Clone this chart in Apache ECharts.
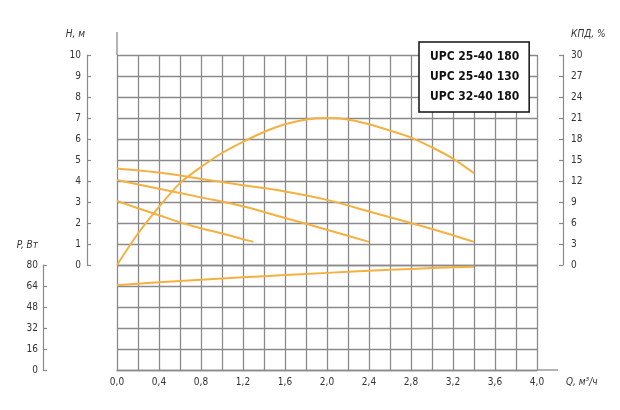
<!DOCTYPE html>
<html><head><meta charset="utf-8">
<script src="https://cdn.jsdelivr.net/npm/echarts@6/dist/echarts.min.js"></script>
<style>html,body{margin:0;padding:0;background:#fff}#c{width:620px;height:410px}</style>
</head><body><div id="c"></div>
<script>
// Flow Q, m3/h
const q1 = [0, 0.4, 0.8, 1.2, 1.6, 2.0, 2.4, 2.8, 3.2, 3.4];
const h1 = [4.6, 4.4, 4.1, 3.8, 3.5, 3.1, 2.55, 2.0, 1.42, 1.1];
const q2 = [0, 0.4, 0.8, 1.2, 1.6, 2.0, 2.4];
const h2 = [4.05, 3.63, 3.22, 2.8, 2.24, 1.68, 1.1];
const q3 = [0, 0.2, 0.4, 0.6, 0.8, 1.0, 1.2, 1.3];
const h3 = [3.05, 2.7, 2.37, 2.03, 1.75, 1.5, 1.23, 1.1];
const qEff = [0, 0.2, 0.4, 0.6, 0.8, 1.0, 1.2, 1.4, 1.6, 1.8, 2.0, 2.2, 2.4, 2.6, 2.8, 3.0, 3.2, 3.4];
const eff = [0, 4.5, 8.3, 11.7, 14, 16, 17.6, 19, 20.1, 20.8, 21, 20.8, 20.1, 19.2, 18.2, 16.8, 15.2, 13.1];
const qPow = [0, 0.4, 0.8, 1.2, 1.6, 2.0, 2.4, 2.8, 3.2, 3.4];
const pow = [64.5, 66.8, 68.8, 70.6, 72.3, 74, 75.6, 77, 78.2, 78.6];
const models = ['UPC 25-40 180', 'UPC 25-40 130', 'UPC 32-40 180'];

const pairs = (xs, ys) => xs.map((x, i) => [x, ys[i]]);
const GRAY = '#8a8a8a';
const ORANGE = '#F4B141';
const FONT = '"DejaVu Sans Condensed","DejaVu Sans",sans-serif';
const lbl = { color: '#333', fontSize: 10, fontFamily: FONT };
const nameStyle = { color: '#333', fontSize: 10, fontStyle: 'italic', fontFamily: FONT };

const xBase = {
  type: 'value', min: 0, max: 4, interval: 0.2,
  splitLine: { show: true, lineStyle: { color: GRAY, width: 1.3 } },
  axisTick: { show: false }
};
const yBase = {
  type: 'value',
  axisLine: { show: true, onZero: false, lineStyle: { color: GRAY, width: 1.2 } },
  axisTick: { show: true, inside: true, length: 4, lineStyle: { color: GRAY, width: 1.2 } },
  axisLabel: Object.assign({ margin: 6 }, lbl)
};
const line = (name, data, xi, yi) => ({
  name, type: 'line', data, xAxisIndex: xi, yAxisIndex: yi, smooth: 0.3,
  showSymbol: false, symbol: 'none', animation: false,
  lineStyle: { color: ORANGE, width: 2 }, itemStyle: { color: ORANGE }
});

const chart = echarts.init(document.getElementById('c'));
chart.setOption({
  animation: false,
  grid: [
    { left: 117, top: 55, width: 420, height: 210 },
    { left: 117, top: 265, width: 420, height: 105 }
  ],
  xAxis: [
    Object.assign({}, xBase, { gridIndex: 0, axisLine: { show: false }, axisLabel: { show: false } }),
    Object.assign({}, xBase, {
      gridIndex: 1,
      axisLine: { show: true, onZero: false, lineStyle: { color: GRAY, width: 1.3 } },
      axisLabel: Object.assign({ margin: 7, showMinLabel: true, showMaxLabel: true,
        formatter: v => (Math.round(v * 10) % 4 === 0 ? v.toFixed(1).replace('.', ',') : '') }, lbl),
      name: 'Q, м³/ч', nameLocation: 'end', nameGap: 29,
      nameTextStyle: Object.assign({ verticalAlign: 'top', padding: [7, 0, 0, 0] }, nameStyle)
    })
  ],
  yAxis: [
    Object.assign({}, yBase, {
      gridIndex: 0, min: 0, max: 10, interval: 1, position: 'left', offset: 30,
      splitLine: { show: true, lineStyle: { color: GRAY, width: 1.3 } },
      name: 'H, м', nameLocation: 'end', nameGap: 16,
      nameTextStyle: Object.assign({ align: 'right', padding: [0, 2, 0, 0] }, nameStyle)
    }),
    Object.assign({}, yBase, {
      gridIndex: 0, min: 0, max: 30, interval: 3, position: 'right', offset: 26,
      splitLine: { show: false },
      axisLabel: Object.assign({ margin: 8 }, lbl),
      name: 'КПД, %', nameLocation: 'end', nameGap: 16,
      nameTextStyle: Object.assign({ align: 'left', padding: [0, 0, 0, 8] }, nameStyle)
    }),
    Object.assign({}, yBase, {
      gridIndex: 1, min: 0, max: 80, interval: 16, position: 'left', offset: 74,
      splitLine: { show: true, lineStyle: { color: GRAY, width: 1.3 } },
      axisLabel: Object.assign({ margin: 5 }, lbl),
      name: 'P, Вт', nameLocation: 'end', nameGap: 15,
      nameTextStyle: Object.assign({ align: 'right', padding: [0, 5, 0, 0] }, nameStyle)
    })
  ],
  legend: {
    data: models, orient: 'vertical', left: 419, top: 42,
    icon: 'none', itemWidth: 0, itemHeight: 12, itemGap: 8,
    padding: [9, 10, 9, 6],
    backgroundColor: '#fff', borderColor: '#111', borderWidth: 1.5, borderRadius: 0,
    selectedMode: false,
    textStyle: { color: '#111', fontSize: 12, fontWeight: 'bold', fontFamily: FONT }
  },
  graphic: [
    { type: 'line', shape: { x1: 117, y1: 32, x2: 117, y2: 55 }, style: { stroke: GRAY, lineWidth: 1.3 }, silent: true },
    { type: 'line', shape: { x1: 537, y1: 370, x2: 558, y2: 370 }, style: { stroke: GRAY, lineWidth: 1.3 }, silent: true }
  ],
  series: [
    line(models[0], pairs(q1, h1), 0, 0),
    line(models[1], pairs(q2, h2), 0, 0),
    line(models[2], pairs(q3, h3), 0, 0),
    line('КПД', pairs(qEff, eff), 0, 1),
    line('P', pairs(qPow, pow), 1, 2)
  ]
});
</script></body></html>
